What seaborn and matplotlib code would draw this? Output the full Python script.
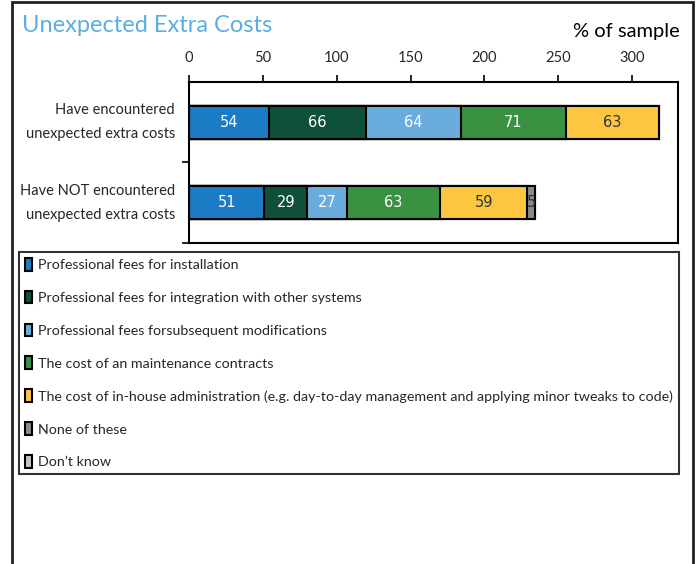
import numpy as np
import matplotlib
matplotlib.use("Agg")
import matplotlib.pyplot as plt
from matplotlib.patches import Patch, Rectangle
import seaborn as sns

categories = ["Have encountered\nunexpected extra costs",
              "Have NOT encountered\nunexpected extra costs"]
series_names = ["Professional fees for installation",
                "Professional fees for integration with other systems",
                "Professional fees forsubsequent modifications",
                "The cost of an maintenance contracts",
                "The cost of in-house administration (e.g. day-to-day management and applying minor tweaks to code)",
                "None of these",
                "Don\u2019t know"]
installation = [54, 51]
integration = [66, 29]
modifications = [64, 27]
maintenance = [71, 63]
admin = [63, 59]
none_of_these = [0, 5]
dont_know = [0, 0]
x_ticks = [0, 50, 100, 150, 200, 250, 300]

colors = ["#1b7bc4", "#0e503a", "#6aaddc", "#3a9142", "#fdc641", "#8a8a8a", "#c4c4c4"]
text_colors = ["white", "white", "white", "white", "#333333", "#333333", "#333333"]

sns.set_theme(style="white")
plt.rcParams['font.family'] = ['Lato', 'DejaVu Sans']

series = [installation, integration, modifications, maintenance, admin, none_of_these, dont_know]
values = np.array(series, dtype=float)
cum = np.cumsum(values, axis=0)

fig = plt.figure(figsize=(6.99, 5.64), dpi=100)
ax = fig.add_axes([189 / 699, 1 - 243 / 564, (678 - 189) / 699, (243 - 82) / 564])

# stacked bars: draw cumulative totals from longest to shortest
for i in range(len(series) - 1, -1, -1):
    sns.barplot(x=cum[i], y=categories, color=colors[i], orient="h",
                edgecolor="black", linewidth=1.5, width=0.41, saturation=1, ax=ax)

# value labels in the middle of each segment
for i in range(len(series)):
    for j in range(len(categories)):
        v = values[i, j]
        if v > 0:
            ax.text(cum[i, j] - v / 2, j, f"{int(v)}", ha="center", va="center",
                    color=text_colors[i], fontsize=10.5, family="DejaVu Sans")

ax.set_xlim(0, 331)
ax.set_ylim(1.5, -0.5)
ax.set_xlabel("")
ax.set_ylabel("")
ax.xaxis.tick_top()
ax.set_xticks(x_ticks)
ax.tick_params(axis="x", direction="out", length=5, width=1.2, color="black",
               labelsize=10.5, pad=7, top=True, bottom=False)
ax.set_yticks([0, 1])
ax.set_yticklabels(categories)
ax.set_yticks([0.5, 1.5], minor=True)
ax.tick_params(axis="y", which="major", length=0, pad=10, labelsize=10.5)
ax.tick_params(axis="y", which="minor", direction="out", length=5, width=1.2, color="black", left=True)
for t in ax.get_yticklabels():
    t.set_linespacing(1.9)
    t.set_horizontalalignment("right")
    t.set_verticalalignment("center")
for s in ax.spines.values():
    s.set_visible(True)
    s.set_color("black")
    s.set_linewidth(1.5)

# legend
handles = [Patch(facecolor=c, edgecolor="black", linewidth=1.5) for c in colors]
leg = fig.legend(handles, series_names, loc="upper left",
                 bbox_to_anchor=(19 / 699, 1 - 252 / 564), frameon=True,
                 fontsize=10.3, labelspacing=1.37, handlelength=0.5, handleheight=1.0,
                 handletextpad=0.45, borderpad=0.4, borderaxespad=0, fancybox=False)
leg.get_frame().set_edgecolor("black")
leg.get_frame().set_linewidth(1.5)

# title and unit note
fig.text(22 / 699, 1 - 26 / 564, "Unexpected Extra Costs", color="#5aaee0",
         fontsize=17, va="center", ha="left")
fig.text(680 / 699, 1 - 31 / 564, "% of sample", color="black",
         fontsize=14.5, va="center", ha="right")

# outer frame, open at the bottom
fig.add_artist(Rectangle((12 / 699, -0.1), (693 - 12) / 699, 1.1 - 2 / 564,
                         transform=fig.transFigure, fill=False,
                         edgecolor="#222222", linewidth=2))

fig.savefig("out.png", dpi=100)
